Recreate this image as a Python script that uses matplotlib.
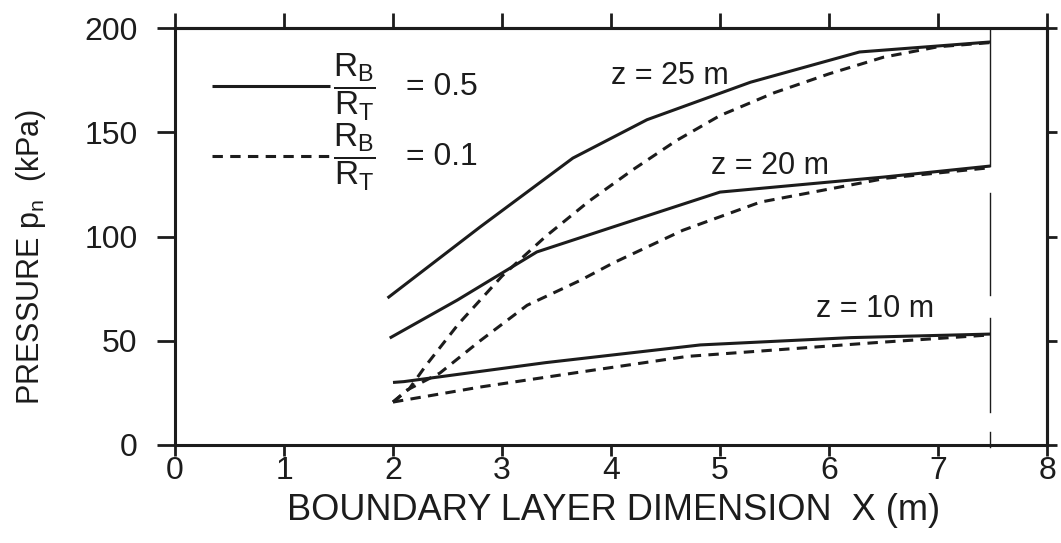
import numpy as np
import matplotlib
matplotlib.use("Agg")
import matplotlib.pyplot as plt

plt.rcParams['font.family'] = ['Liberation Sans', 'DejaVu Sans']
plt.rcParams['mathtext.fontset'] = 'custom'
plt.rcParams['mathtext.rm'] = 'Liberation Sans'
plt.rcParams['mathtext.it'] = 'Liberation Sans:italic'
plt.rcParams['mathtext.bf'] = 'Liberation Sans:bold'

ink = '#1c1c1c'

# curves: X (m) vs pressure (kPa)
# R_B/R_T = 0.5 (solid)
x25_solid = [1.95, 2.8, 3.65, 4.33, 5.28, 6.28, 7.48]
p25_solid = [70.5, 104.6, 137.6, 156.0, 174.0, 188.5, 193.3]
x20_solid = [1.97, 2.59, 3.32, 4.02, 4.63, 5.0, 6.5, 7.48]
p20_solid = [51.3, 69.5, 92.6, 104.6, 115.0, 121.3, 128.5, 133.8]
x10_solid = [2.0, 2.1, 3.4, 4.82, 6.2, 7.48]
p10_solid = [30.0, 30.4, 39.5, 48.0, 51.5, 53.2]

# R_B/R_T = 0.1 (dashed)
x25_dash = [2.0, 2.15, 2.3, 2.6, 3.0, 3.4, 3.8, 4.2, 4.6, 5.0, 5.5, 6.0, 6.5, 7.0, 7.48]
p25_dash = [20.6, 27.0, 38.0, 58.0, 81.0, 100.0, 117.0, 132.0, 146.0, 158.0, 169.0, 178.0, 186.0, 191.0, 193.0]
x20_dash = [2.0, 2.13, 2.43, 2.8, 3.23, 3.72, 4.02, 4.66, 5.37, 6.53, 7.48]
p20_dash = [20.6, 26.4, 34.5, 50.0, 67.0, 79.0, 87.3, 103.0, 116.5, 128.0, 133.0]
x10_dash = [2.0, 2.8, 3.72, 4.7, 6.4, 7.48]
p10_dash = [20.6, 27.8, 35.0, 42.5, 49.0, 52.8]

# broken vertical marker line at the end of the curves
x_marker = 7.48
marker_pieces = [(200, 134), (121, 72), (61, 16), (6, -1)]

z_labels = ['z = 25 m', 'z = 20 m', 'z = 10 m']
z_label_pos = [(4.54, 177), (5.46, 134), (6.42, 65)]

ratio_values = ['= 0.5', '= 0.1']

fig = plt.figure(figsize=(10.61, 5.43), dpi=100)
ax = fig.add_axes([175/1061, 1 - 445/543, 872/1061, 417/543])

lw = 2.2
dash = (3.4, 2.4)
solid_h = None
dash_h = None
for xs, ps in [(x25_solid, p25_solid), (x20_solid, p20_solid), (x10_solid, p10_solid)]:
    solid_h, = ax.plot(xs, ps, color=ink, lw=lw, solid_capstyle='butt')
for xs, ps in [(x25_dash, p25_dash), (x20_dash, p20_dash), (x10_dash, p10_dash)]:
    dash_h, = ax.plot(xs, ps, color=ink, lw=lw, dashes=dash)

for y0, y1 in marker_pieces:
    ax.plot([x_marker, x_marker], [y0, y1], color=ink, lw=1.0, clip_on=False)

for lab, (xx, yy) in zip(z_labels, z_label_pos):
    ax.text(xx, yy, lab, fontsize=22, color=ink, ha='center', va='center')

frac = r'$\dfrac{\mathrm{R_B}}{\mathrm{R_T}}$'
leg = ax.legend([solid_h, dash_h], [frac, frac],
                loc='upper left', bbox_to_anchor=(0.0424, 0.943), frameon=False,
                fontsize=24, handlelength=3.54, handletextpad=0.08,
                labelspacing=-0.05, borderaxespad=0.0, borderpad=0.0)

ax.set_xlim(0, 8)
ax.set_ylim(0, 200)
ax.set_xticks(np.arange(0, 9, 1))
ax.set_yticks([0, 50, 100, 150, 200])

for s in ax.spines.values():
    s.set_linewidth(2.2)
    s.set_color(ink)

ax.tick_params(axis='both', direction='out', width=2.0, color=ink,
               labelsize=23, labelcolor=ink)
ax.tick_params(axis='x', length=8, pad=0)
ax.tick_params(axis='y', length=13, pad=14)

# plain outward ticks on the top and right edges
top = ax.secondary_xaxis('top')
top.set_xticks(np.arange(0, 9, 1))
top.tick_params(direction='out', length=11, width=2.0, color=ink, labeltop=False)
top.spines['top'].set_linewidth(2.2)
right = ax.secondary_yaxis('right')
right.set_yticks([0, 50, 100, 150, 200])
right.tick_params(direction='out', length=7, width=2.0, color=ink, labelright=False)
right.spines['right'].set_linewidth(2.2)

ax.set_xlabel('BOUNDARY LAYER DIMENSION  X (m)', fontsize=26, color=ink)
ax.set_ylabel(r'PRESSURE $\mathregular{p_n}$  (kPa)', fontsize=22, color=ink)
ax.xaxis.set_label_coords(0.503, -0.115)
ax.yaxis.set_label_coords(-0.146, 0.45)

# put "= 0.5" / "= 0.1" beside each fraction once the legend is laid out
fig.canvas.draw()
to_axes = ax.transAxes.inverted()
for t, val in zip(leg.get_texts(), ratio_values):
    t.set_color(ink)
    bb = t.get_window_extent()
    x_ax, y_ax = to_axes.transform((bb.x1 + 30, (bb.y0 + bb.y1) / 2))
    ax.text(x_ax, y_ax, val, transform=ax.transAxes, va='center', ha='left',
            fontsize=23, color=ink)

fig.savefig('out.png', dpi=100)
